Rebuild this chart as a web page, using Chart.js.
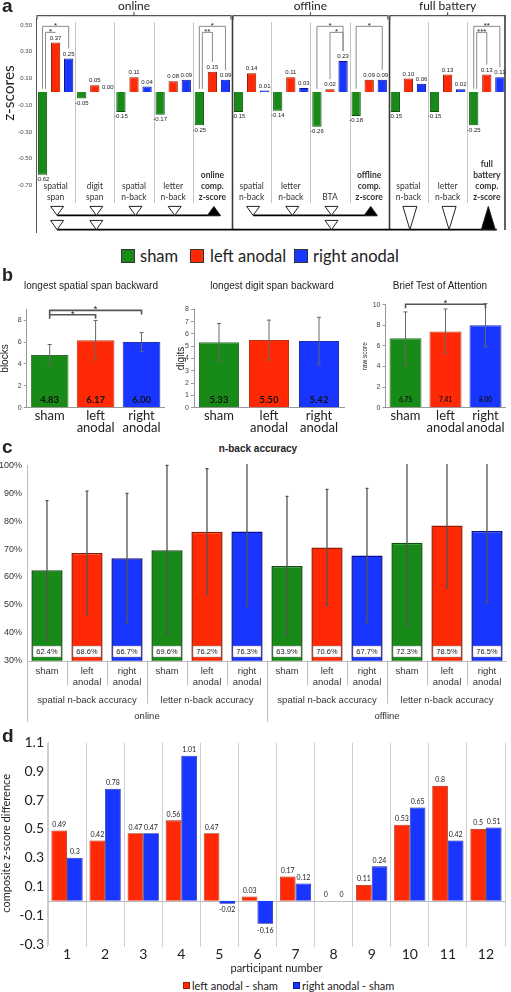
<!DOCTYPE html>
<html>
<head>
<meta charset="utf-8">
<script src="https://cdn.jsdelivr.net/npm/chart.js@4.4.1/dist/chart.umd.min.js"></script>
<style>
  body { margin: 0; background: #fff; }
  #wrap { position: relative; width: 511px; height: 992px; overflow: hidden; font-family: "Liberation Sans", Arial, sans-serif; color: #222; }
  canvas { position: absolute; }
  .t { position: absolute; white-space: nowrap; line-height: 1; }
  .c { transform: translate(-50%, -50%); }
  .m { transform: translateY(-50%); }
  .lab { font-weight: bold; font-size: 19px; }
  .sw { position: absolute; box-sizing: border-box; border: 1px solid #333; }
</style>
</head>
<body>
<div id="wrap">
  <canvas id="chartA" width="511" height="240" style="left:0;top:0"></canvas>
  <canvas id="chartB1" width="170" height="150" style="left:0;top:290px"></canvas>
  <canvas id="chartB2" width="180" height="150" style="left:170px;top:290px"></canvas>
  <canvas id="chartB3" width="156" height="150" style="left:355px;top:290px"></canvas>
  <canvas id="chartC" width="511" height="270" style="left:0;top:455px"></canvas>
  <canvas id="chartD" width="511" height="245" style="left:0;top:730px"></canvas>

  <div class="t lab" style="left:2px;top:-4px">a</div>
  <div class="t" style="left:8px;top:93px;font:15.5px Lato;transform:translate(-50%,-50%) rotate(-90deg)">z-scores</div>

  <div class="sw" style="left:121px;top:249px;width:14px;height:14px;background:#188a18"></div>
  <div class="t m" style="left:140px;top:256px;font:16.5px Lato">sham</div>
  <div class="sw" style="left:190px;top:249px;width:14px;height:14px;background:#ff2a05"></div>
  <div class="t m" style="left:210px;top:256px;font:16.5px Lato">left anodal</div>
  <div class="sw" style="left:294px;top:249px;width:14px;height:14px;background:#1836ff"></div>
  <div class="t m" style="left:313px;top:256px;font:16.5px Lato">right anodal</div>

  <div class="t lab" style="left:2px;top:266px;font-size:18px">b</div>
  <div class="t c" style="left:91px;top:286px;font-size:10px">longest spatial span backward</div>
  <div class="t c" style="left:272px;top:286px;font-size:10px">longest digit span backward</div>
  <div class="t c" style="left:440px;top:286px;font-size:10px">Brief Test of Attention</div>

  <div class="t lab" style="left:2px;top:437px">c</div>
  <div class="t c" style="left:258px;top:449px;font-size:10px;font-weight:bold">n-back accuracy</div>

  <div class="t lab" style="left:2px;top:726px">d</div>
  <div class="sw" style="left:183px;top:982px;width:7px;height:7px;background:#ff2a05;border-color:#a31e00"></div>
  <div class="t m" style="left:192px;top:985px;font:11px Lato">left anodal - sham</div>
  <div class="sw" style="left:293px;top:982px;width:7px;height:7px;background:#1836ff;border-color:#0a1890"></div>
  <div class="t m" style="left:302px;top:985px;font:11px Lato">right anodal - sham</div>
</div>

<script>
const GREEN = '#188a18', RED = '#ff2a05', BLUE = '#1836ff';
const GREEN_D = '#0e4f0e', RED_D = '#8f1c00', BLUE_D = '#0b108a';

// ---- panel a: z-scores ----
const aCats = ['spatial\nspan', 'digit\nspan', 'spatial\nn-back', 'letter\nn-back', 'online\ncomp.\nz-score',
  'spatial\nn-back', 'letter\nn-back', 'BTA', 'offline\ncomp.\nz-score',
  'spatial\nn-back', 'letter\nn-back', 'full\nbattery\ncomp.\nz-score'];
const aBold = [false, false, false, false, true, false, false, false, true, false, false, true];
const aSham = [-0.62, -0.05, -0.15, -0.17, -0.25, -0.15, -0.14, -0.26, -0.18, -0.15, -0.15, -0.25];
const aLeft = [0.37, 0.05, 0.11, 0.08, 0.15, 0.14, 0.11, 0.02, 0.09, 0.10, 0.13, 0.13];
const aRight = [0.25, 0.00, 0.04, 0.09, 0.09, 0.01, 0.03, 0.23, 0.09, 0.06, 0.02, 0.11];
const aTicks = [-0.7, -0.5, -0.3, -0.1, 0.1, 0.3, 0.5];
const aSections = [['online', 0, 4], ['offline', 5, 8], ['full battery', 9, 11]];
// [category, from series, to series, bracket level, stars]
const aSig = [[0, 0, 2, 0.49, '*'], [0, 0, 1, 0.445, '*'], [4, 0, 2, 0.49, '*'], [4, 0, 1, 0.445, '**'],
  [7, 0, 2, 0.49, '*'], [7, 1, 2, 0.445, '*'], [8, 0, 2, 0.49, '*'], [11, 0, 2, 0.49, '**'], [11, 0, 1, 0.445, '***']];
// triangle markers under the groups
const aRow1 = [[0, 'open'], [1, 'open'], [2, 'open'], [3, 'open'], [4, 'filled'], [5, 'open'], [6, 'open'], [7, 'open'], [8, 'filled']];
const aRow1Lines = [[0, 4], [5, 8]];
const aRow2 = [[0, 'open'], [1, 'open'], [7, 'open'], [9, 'tall'], [10, 'tall'], [11, 'tallFilled']];
const aRow2Lines = [[0, 11]];

// ---- panel b ----
const bCats = ['sham', ['left', 'anodal'], ['right', 'anodal']];
const bSpan = [4.83, 6.17, 6.00];
const bSpanSd = [0.95, 1.8, 0.87];
const bDigit = [5.33, 5.50, 5.42];
const bDigitSd = [1.52, 1.62, 1.93];
const bBta = [6.75, 7.41, 8.00];
const bBtaSd = [2.55, 2.17, 2.1];

// ---- panel c ----
const cConds = [['sham'], ['left', 'anodal'], ['right', 'anodal']];
const cLabels = [...cConds, ...cConds, ...cConds, ...cConds];
const cTasks = ['spatial n-back accuracy', 'letter n-back accuracy', 'spatial n-back accuracy', 'letter n-back accuracy'];
const cPhases = ['online', 'offline'];
const cVals = [62.4, 68.6, 66.7, 69.6, 76.2, 76.3, 63.9, 70.6, 67.7, 72.3, 78.5, 76.5];
const cSd = [25.0, 22.2, 23.3, 30.4, 22.6, 26.8, 25.0, 20.8, 24.1, 29.7, 22.5, 25.8];

// ---- panel d ----
const dParticipants = ['1', '2', '3', '4', '5', '6', '7', '8', '9', '10', '11', '12'];
const dLeft = [0.49, 0.42, 0.47, 0.56, 0.47, 0.03, 0.17, 0, 0.11, 0.53, 0.8, 0.5];
const dRight = [0.3, 0.78, 0.47, 1.01, -0.02, -0.16, 0.12, 0, 0.24, 0.65, 0.42, 0.51];
const dTicks = [-0.3, -0.1, 0.1, 0.3, 0.5, 0.7, 0.9, 1.1];

const FILL3 = [GREEN, RED, BLUE];
const EDGE3 = [GREEN_D, RED_D, BLUE_D];

// Panel a decorations
const aDecor = {
  id: 'aDecor',
  afterDatasetsDraw(chart) {
    const { ctx, chartArea: ca, scales: { x, y } } = chart;
    const cx = i => x.getPixelForValue(i);
    const half = (cx(1) - cx(0)) / 2;
    const zero = y.getPixelForValue(0);
    ctx.save();

    // separators between groups
    aCats.forEach((c, i) => {
      const xb = Math.round(cx(i) + half) + 0.5;
      const major = i === aCats.length - 1 || aSections.some(s => s[2] === i);
      ctx.beginPath();
      if (major) {
        ctx.strokeStyle = '#3a3a3a'; ctx.lineWidth = 1.6;
        const xx = i === aCats.length - 1 ? xb - 1.5 : xb;
        ctx.moveTo(xx, 16); ctx.lineTo(xx, ca.bottom - 2.5);
      } else {
        ctx.strokeStyle = '#c4c4c4'; ctx.lineWidth = 1;
        ctx.moveTo(xb, ca.top + 4); ctx.lineTo(xb, y.getPixelForValue(-0.83));
      }
      ctx.stroke();
    });

    // section brackets
    ctx.strokeStyle = '#555'; ctx.lineWidth = 1.2;
    ctx.font = '12px Lato'; ctx.fillStyle = '#222';
    ctx.textAlign = 'center'; ctx.textBaseline = 'middle';
    aSections.forEach(([name, a, b]) => {
      const l = cx(a) - half + 1, r = cx(b) + half - 1, m = (l + r) / 2;
      ctx.beginPath();
      ctx.moveTo(l, 19.5); ctx.lineTo(l, 15.7); ctx.lineTo(r, 15.7); ctx.lineTo(r, 19.5);
      ctx.moveTo(m, 15.7); ctx.lineTo(m, 12.3);
      ctx.stroke();
      ctx.fillText(name, m, 6.5);
    });

    // bar values
    ctx.font = '6px "Liberation Sans"'; ctx.fillStyle = '#222';
    const series = [aSham, aLeft, aRight];
    series.forEach((arr, d) => {
      chart.getDatasetMeta(d).data.forEach((bar, i) => {
        const v = arr[i];
        if (v < 0) { ctx.textBaseline = 'top'; ctx.fillText(v.toFixed(2), bar.x, bar.y + 1.5); }
        else { ctx.textBaseline = 'bottom'; ctx.fillText(v.toFixed(2), bar.x, bar.y - 1.5); }
      });
    });

    // category labels
    const last = y.getPixelForValue(-0.79);
    ctx.fillStyle = '#333'; ctx.textBaseline = 'middle';
    aCats.forEach((c, i) => {
      const lines = c.split('\n');
      ctx.font = (aBold[i] ? 'bold ' : '') + '8.5px Lato';
      lines.forEach((t, j) => ctx.fillText(t, cx(i), last - (lines.length - 1 - j) * 11.2));
    });

    // significance brackets
    ctx.strokeStyle = '#8a8a8a'; ctx.lineWidth = 1;
    ctx.fillStyle = '#222'; ctx.font = '8px "Liberation Sans"'; ctx.textBaseline = 'alphabetic';
    aSig.forEach(([i, d1, d2, lvl, stars]) => {
      const yb = y.getPixelForValue(lvl);
      const leg = d => {
        const v = series[d][i];
        return v < 0 ? zero - 3 : chart.getDatasetMeta(d).data[i].y - 10;
      };
      const inner = lvl < 0.47;
      const x1 = chart.getDatasetMeta(d1).data[i].x + (inner && d1 === 0 ? 3 : 0);
      const x2 = chart.getDatasetMeta(d2).data[i].x;
      ctx.beginPath();
      ctx.moveTo(x1, leg(d1)); ctx.lineTo(x1, yb); ctx.lineTo(x2, yb); ctx.lineTo(x2, leg(d2));
      ctx.stroke();
      ctx.fillText(stars, (x1 + x2) / 2, yb + 2);
    });

    // triangle markers
    const tri = (xc, t, b, hw, filled) => {
      ctx.beginPath();
      if (filled) { ctx.moveTo(xc - hw, b); ctx.lineTo(xc + hw, b); ctx.lineTo(xc, t); }
      else { ctx.moveTo(xc - hw, t); ctx.lineTo(xc + hw, t); ctx.lineTo(xc, b); }
      ctx.closePath();
      ctx.fillStyle = filled ? '#000' : '#fff'; ctx.fill();
      ctx.strokeStyle = '#222'; ctx.lineWidth = 1; ctx.stroke();
    };
    const r1t = ca.bottom - 26, r1b = ca.bottom - 17, r2t = ca.bottom - 12, r2b = ca.bottom - 2.7;
    ctx.strokeStyle = '#000'; ctx.lineWidth = 1.8;
    aRow1Lines.forEach(([a, b]) => {
      ctx.beginPath(); ctx.moveTo(cx(a) + 1.5, r1b); ctx.lineTo(cx(b) + 8, r1b); ctx.stroke();
    });
    aRow2Lines.forEach(([a, b]) => {
      ctx.beginPath(); ctx.moveTo(cx(a) + 1.5, r2b); ctx.lineTo(cx(b) + 10, r2b); ctx.stroke();
    });
    aRow1.forEach(([i, kind]) => tri(cx(i) + 1.5, r1t, r1b, 6.5, kind === 'filled'));
    aRow2.forEach(([i, kind]) => {
      const tall = kind.startsWith('tall');
      tri(cx(i) + 1.5, tall ? r1t : r2t, r2b, tall ? 7 : 6.5, kind === 'tallFilled');
    });
    ctx.restore();
  }
};

new Chart(document.getElementById('chartA'), {
  type: 'bar',
  data: {
    labels: aCats,
    datasets: [
      { label: 'sham', data: aSham, backgroundColor: GREEN, borderColor: GREEN_D, borderWidth: 1 },
      { label: 'left anodal', data: aLeft, backgroundColor: RED, borderColor: RED_D, borderWidth: 1 },
      { label: 'right anodal', data: aRight, backgroundColor: BLUE, borderColor: BLUE_D, borderWidth: 1 }
    ]
  },
  options: {
    responsive: false, animation: false, devicePixelRatio: 1,
    layout: { padding: { top: 18.3, bottom: 7.3, right: 4.6, left: 0 } },
    datasets: { bar: { categoryPercentage: 1, barPercentage: 0.71 } },
    plugins: { legend: { display: false }, tooltip: { enabled: false } },
    scales: {
      x: { display: false },
      y: {
        min: -1.05, max: 0.55,
        afterFit(s) { s.width = 36; },
        afterBuildTicks(s) { s.ticks = aTicks.map(v => ({ value: v })); },
        ticks: { font: { size: 6 }, color: '#444', padding: 4, callback: v => v.toFixed(2) },
        grid: { display: false, drawTicks: false },
        border: { display: true, color: '#555' }
      }
    }
  },
  plugins: [aDecor]
});

// Panel b helper
function bDecor(vals, sds, sig, valFont) {
  return {
    id: 'bDecor',
    afterDatasetsDraw(chart) {
      const { ctx, scales: { y } } = chart;
      const bars = chart.getDatasetMeta(0).data;
      ctx.save();
      ctx.strokeStyle = '#666'; ctx.lineWidth = 1;
      bars.forEach((b, i) => {
        const t = y.getPixelForValue(vals[i] + sds[i]), bt = y.getPixelForValue(vals[i] - sds[i]);
        ctx.beginPath();
        ctx.moveTo(b.x, t); ctx.lineTo(b.x, bt);
        ctx.moveTo(b.x - 2, t); ctx.lineTo(b.x + 2, t);
        ctx.moveTo(b.x - 2, bt); ctx.lineTo(b.x + 2, bt);
        ctx.stroke();
      });
      ctx.font = valFont; ctx.fillStyle = '#111';
      ctx.textAlign = 'center'; ctx.textBaseline = 'middle';
      const z = y.getPixelForValue(0);
      bars.forEach((b, i) => ctx.fillText(vals[i].toFixed(2), b.x, z - 7.7));
      ctx.strokeStyle = '#555'; ctx.lineWidth = 1.6;
      ctx.font = '9px "Liberation Sans"'; ctx.textBaseline = 'alphabetic';
      sig.forEach(([a, b, lvl, s]) => {
        const yy = y.getPixelForValue(lvl), x1 = bars[a].x, x2 = bars[b].x;
        ctx.beginPath();
        ctx.moveTo(x1, yy + 4); ctx.lineTo(x1, yy); ctx.lineTo(x2, yy); ctx.lineTo(x2, yy + 4);
        ctx.stroke();
        ctx.fillText(s, (x1 + x2) / 2, yy + 2);
      });
      ctx.restore();
    }
  };
}

function bChart(id, vals, sds, max, area, pct, yTitle, titleSize, titlePad, valFont, sig) {
  const el = document.getElementById(id);
  return new Chart(el, {
    type: 'bar',
    data: {
      labels: bCats,
      datasets: [{ data: vals, backgroundColor: FILL3, borderColor: ['#2f6f2f', '#c03010', '#2030b0'], borderWidth: 1,
        barPercentage: pct, categoryPercentage: 1 }]
    },
    options: {
      responsive: false, animation: false, devicePixelRatio: 1,
      layout: { padding: { top: area.top, right: el.width - area.right, bottom: 0, left: 0 } },
      plugins: { legend: { display: false }, tooltip: { enabled: false } },
      scales: {
        x: {
          afterFit(s) { s.height = el.height - area.bottom; },
          grid: { display: false, drawTicks: false },
          border: { display: true, color: '#999' },
          ticks: { font: { family: 'Lato', size: 13, lineHeight: 0.9 }, color: '#222', padding: 2.5,
            maxRotation: 0, minRotation: 0, autoSkip: false }
        },
        y: {
          min: 0, max: max,
          afterFit(s) { s.width = area.left; },
          ticks: { stepSize: 1, font: { size: 7 }, color: '#444', padding: 2 },
          grid: { drawOnChartArea: false, drawTicks: true, tickLength: 3, color: '#999' },
          border: { display: true, color: '#999' },
          title: { display: true, text: yTitle, font: { size: titleSize, lineHeight: 1 }, padding: { top: titlePad }, color: '#222' }
        }
      }
    },
    plugins: [bDecor(vals, sds, sig, valFont)]
  });
}

bChart('chartB1', bSpan, bSpanSd, 9, { left: 26.7, top: 19.3, bottom: 117.7, right: 164.5 }, 0.82,
  'blocks', 10, 0, 'bold 9.5px Lato', [[0, 1, 8.5, '*'], [0, 2, 8.9, '*']]);
bChart('chartB2', bDigit, bDigitSd, 8, { left: 24, top: 19.3, bottom: 117.7, right: 174 }, 0.8,
  'digits', 10, 6.7, 'bold 9.5px Lato', []);
bChart('chartB3', bBta, bBtaSd, 10, { left: 30.5, top: 14.7, bottom: 117.7, right: 150.5 }, 0.8,
  'raw score', 6.5, 6.75, 'bold 6.5px Lato', [[0, 2, 10.05, '*']]);

// Panel c decorations
const cDecor = {
  id: 'cDecor',
  afterDatasetsDraw(chart) {
    const { ctx, chartArea: ca, scales: { x, y } } = chart;
    const cx = i => x.getPixelForValue(i);
    const bars = chart.getDatasetMeta(0).data;
    ctx.save();
    // error bars
    ctx.strokeStyle = '#555'; ctx.lineWidth = 1.3;
    bars.forEach((b, i) => {
      const rawTop = y.getPixelForValue(cVals[i] + cSd[i]);
      const top = Math.max(rawTop, ca.top - 1.5);
      const bot = y.getPixelForValue(cVals[i] - cSd[i]);
      ctx.beginPath();
      ctx.moveTo(b.x, top); ctx.lineTo(b.x, bot);
      if (rawTop >= ca.top - 1.5) { ctx.moveTo(b.x - 1.5, top); ctx.lineTo(b.x + 1.5, top); }
      ctx.moveTo(b.x - 1.5, bot); ctx.lineTo(b.x + 1.5, bot);
      ctx.stroke();
    });
    // value boxes
    const base = ca.bottom;
    ctx.font = '7.5px "Liberation Sans"'; ctx.textAlign = 'center'; ctx.textBaseline = 'middle';
    bars.forEach((b, i) => {
      ctx.fillStyle = '#fff'; ctx.fillRect(b.x - 14, base - 14.7, 28, 11);
      ctx.strokeStyle = '#999'; ctx.lineWidth = 0.5; ctx.strokeRect(b.x - 14, base - 14.7, 28, 11);
      ctx.fillStyle = '#222'; ctx.fillText(cVals[i].toFixed(1) + '%', b.x, base - 9.1);
    });
    // category table below the axis
    ctx.strokeStyle = '#bdbdbd'; ctx.lineWidth = 1;
    ctx.beginPath();
    ctx.moveTo(ca.left, Math.round(base) + 0.5); ctx.lineTo(ca.right, Math.round(base) + 0.5);
    ctx.moveTo(Math.round(ca.left) + 0.5, base); ctx.lineTo(Math.round(ca.left) + 0.5, base + 61);
    for (let i = 1; i < cVals.length; i++) {
      const xb = Math.round((cx(i - 1) + cx(i)) / 2) + 0.5;
      const len = i % 6 === 0 ? 61 : i % 3 === 0 ? 43 : 25;
      ctx.moveTo(xb, base); ctx.lineTo(xb, base + len);
    }
    ctx.stroke();
    ctx.font = '9.5px "Liberation Sans"'; ctx.fillStyle = '#333';
    cLabels.forEach((lab, i) => lab.forEach((t, j) => ctx.fillText(t, cx(i), base + 11 + j * 10.6)));
    cTasks.forEach((t, k) => ctx.fillText(t, (cx(3 * k) + cx(3 * k + 2)) / 2, base + 39.3));
    cPhases.forEach((t, k) => ctx.fillText(t, (cx(6 * k) + cx(6 * k + 5)) / 2, base + 56));
    ctx.restore();
  }
};

new Chart(document.getElementById('chartC'), {
  type: 'bar',
  data: {
    labels: cLabels,
    datasets: [{ data: cVals, backgroundColor: cVals.map((v, i) => FILL3[i % 3]), borderColor: cVals.map((v, i) => EDGE3[i % 3]),
      borderWidth: 1.5, barPercentage: 0.78, categoryPercentage: 1 }]
  },
  options: {
    responsive: false, animation: false, devicePixelRatio: 1,
    layout: { padding: { top: 10, right: 4, bottom: 64.3, left: 0 } },
    plugins: { legend: { display: false }, tooltip: { enabled: false } },
    scales: {
      x: { display: false },
      y: {
        min: 30, max: 100,
        afterFit(s) { s.width = 27; },
        ticks: { stepSize: 10, font: { size: 9 }, color: '#333', padding: 5, callback: v => v + '%' },
        grid: { display: false, drawTicks: false },
        border: { display: true, color: '#bdbdbd' }
      }
    }
  },
  plugins: [cDecor]
});

// Panel d decorations
const dDecor = {
  id: 'dDecor',
  beforeDatasetsDraw(chart) {
    const { ctx, chartArea: ca, scales: { y } } = chart;
    const z = Math.round(y.getPixelForValue(0)) + 0.5;
    ctx.save();
    ctx.strokeStyle = '#bbb'; ctx.lineWidth = 1;
    ctx.beginPath(); ctx.moveTo(ca.left, z); ctx.lineTo(ca.right, z); ctx.stroke();
    ctx.restore();
  },
  afterDatasetsDraw(chart) {
    const { ctx } = chart;
    ctx.save();
    ctx.font = '7px Lato'; ctx.fillStyle = '#222'; ctx.textAlign = 'center';
    [dLeft, dRight].forEach((arr, d) => {
      chart.getDatasetMeta(d).data.forEach((b, i) => {
        const v = arr[i];
        if (v < 0) { ctx.textBaseline = 'top'; ctx.fillText(String(v), b.x, b.y + 3); }
        else { ctx.textBaseline = 'bottom'; ctx.fillText(String(v), b.x, b.y - 2.5); }
      });
    });
    ctx.restore();
  }
};

new Chart(document.getElementById('chartD'), {
  type: 'bar',
  data: {
    labels: dParticipants,
    datasets: [
      { label: 'left anodal - sham', data: dLeft, backgroundColor: RED, borderColor: '#a31e00', borderWidth: 0.8 },
      { label: 'right anodal - sham', data: dRight, backgroundColor: BLUE, borderColor: '#0a1890', borderWidth: 0.8 }
    ]
  },
  options: {
    responsive: false, animation: false, devicePixelRatio: 1,
    layout: { padding: { top: 12.7, right: 6, bottom: 0.7, left: 0 } },
    datasets: { bar: { categoryPercentage: 0.82, barPercentage: 1 } },
    plugins: { legend: { display: false }, tooltip: { enabled: false } },
    scales: {
      x: {
        afterFit(s) { s.height = 30.3; },
        grid: { color: '#cfcfcf', tickLength: 3, offset: true },
        border: { display: false },
        ticks: { font: { family: 'Lato', size: 14, lineHeight: 1 }, color: '#222', padding: 0 },
        title: { display: true, text: 'participant number', font: { family: 'Lato', size: 11, lineHeight: 1 }, padding: 0, color: '#222' }
      },
      y: {
        min: -0.3, max: 1.1,
        afterFit(s) { s.width = 48; },
        afterBuildTicks(s) { s.ticks = dTicks.map(v => ({ value: v })); },
        ticks: { font: { family: 'Lato', size: 14 }, color: '#222', padding: 4, callback: v => v.toFixed(1) },
        grid: { display: false, drawTicks: false },
        border: { display: true, color: '#cfcfcf' },
        title: { display: true, text: 'composite z-score difference', font: { family: 'Lato', size: 11, lineHeight: 1 }, padding: { top: 0.5 }, color: '#222' }
      }
    }
  },
  plugins: [dDecor]
});
</script>
</body>
</html>
